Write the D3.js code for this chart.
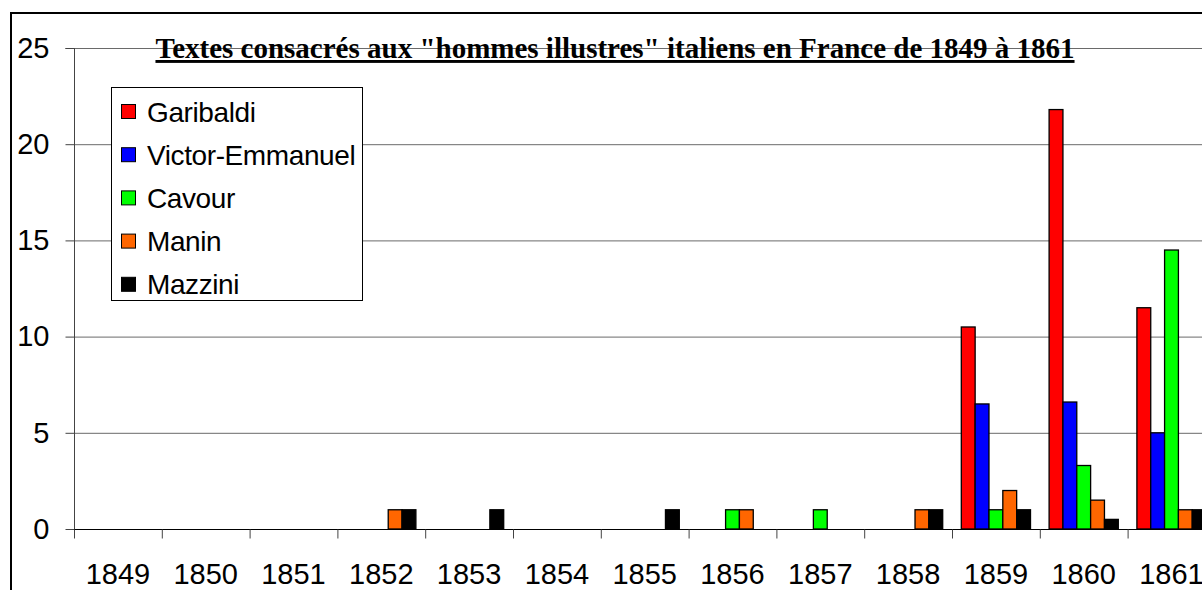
<!DOCTYPE html>
<html>
<head>
<meta charset="utf-8">
<script src="https://cdn.jsdelivr.net/npm/d3@7"></script>
<style>
  body { margin: 0; background: #fff; }
  svg { display: block; }
</style>
</head>
<body>
<script>
const width = 1202
const height = 590

const years = ['1849', '1850', '1851', '1852', '1853', '1854', '1855', '1856', '1857', '1858', '1859', '1860', '1861']
const names = ['Garibaldi', 'Victor-Emmanuel', 'Cavour', 'Manin', 'Mazzini']
const colors = ['#ff0000', '#0000ff', '#00ff00', '#ff6600', '#000000']

// values per year, one array per person
const garibaldi = [0, 0, 0, 0, 0, 0, 0, 0, 0, 0, 10.5, 21.8, 11.5]
const victorEmmanuel = [0, 0, 0, 0, 0, 0, 0, 0, 0, 0, 6.5, 6.6, 5]
const cavour = [0, 0, 0, 0, 0, 0, 0, 1, 1, 0, 1, 3.3, 14.5]
const manin = [0, 0, 0, 1, 0, 0, 0, 1, 0, 1, 2, 1.5, 1]
const mazzini = [0, 0, 0, 1, 1, 0, 1, 0, 0, 1, 1, 0.5, 1]
const series = [garibaldi, victorEmmanuel, cavour, manin, mazzini]

const yTicks = [0, 5, 10, 15, 20, 25]
const title = 'Textes consacrés aux "hommes illustres" italiens en France de 1849 à 1861'

const plotLeft = 74
const band = 87.8
const plotTop = 48
const plotBottom = 529

const svg = d3.select('body').append('svg')
  .attr('width', width)
  .attr('height', height)

// outer frame (runs off the picture on the right and bottom)
svg.append('rect')
  .attr('x', 11).attr('y', 13)
  .attr('width', 1400).attr('height', 800)
  .attr('fill', 'none')
  .attr('stroke', '#000')
  .attr('stroke-width', 2)

const x0 = d3.scaleBand()
  .domain(years)
  .range([plotLeft, plotLeft + band * years.length])

const gap = 9.3
const x1 = d3.scaleBand()
  .domain(d3.range(names.length))
  .range([gap, band - gap])

const y = d3.scaleLinear()
  .domain([0, 25])
  .range([plotBottom, plotTop])

// gridlines
svg.append('g')
  .selectAll('line')
  .data(yTicks.filter(d => d > 0))
  .enter().append('line')
  .attr('x1', plotLeft).attr('x2', width + 20)
  .attr('y1', d => y(d) + 0.5).attr('y2', d => y(d) + 0.5)
  .attr('stroke', '#6a6a6a')

// y axis
const yAxis = svg.append('g')
  .attr('transform', `translate(${plotLeft + 0.5},0)`)
  .call(d3.axisLeft(y).tickValues(yTicks).tickSize(9).tickPadding(16).tickFormat(d3.format('d')))
yAxis.select('.domain').attr('stroke', '#444').attr('d', `M-9,${plotTop + 0.5}H0V${plotBottom}`)
yAxis.selectAll('.tick line').attr('stroke', '#444')
yAxis.selectAll('.tick text')
  .attr('font-family', 'Liberation Sans, Arial, sans-serif')
  .attr('font-size', 29)
  .attr('fill', '#000')

// bars
const groups = svg.append('g')
  .selectAll('g')
  .data(years)
  .enter().append('g')
  .attr('transform', d => `translate(${x0(d)},0)`)

groups.selectAll('rect')
  .data((d, i) => series.map((s, k) => ({ k, v: s[i] })).filter(e => e.v > 0))
  .enter().append('rect')
  .attr('x', d => x1(d.k))
  .attr('y', d => y(d.v))
  .attr('width', x1.bandwidth())
  .attr('height', d => plotBottom - y(d.v))
  .attr('fill', d => colors[d.k])
  .attr('stroke', '#000')
  .attr('stroke-width', 1.3)

// x axis
const xAxis = svg.append('g')
  .attr('transform', `translate(0,${plotBottom + 0.5})`)
xAxis.append('line')
  .attr('x1', plotLeft).attr('x2', width + 20)
  .attr('stroke', '#000')
xAxis.selectAll('line.tk')
  .data(years)
  .enter().append('line')
  .attr('class', 'tk')
  .attr('x1', d => x0(d) + 0.5).attr('x2', d => x0(d) + 0.5)
  .attr('y1', 0).attr('y2', 9)
  .attr('stroke', '#444')
xAxis.selectAll('text')
  .data(years)
  .enter().append('text')
  .attr('x', d => x0(d) + band / 2)
  .attr('y', 54)
  .attr('text-anchor', 'middle')
  .attr('font-family', 'Liberation Sans, Arial, sans-serif')
  .attr('font-size', 29)
  .text(d => d)

// title
svg.append('text')
  .attr('x', 615)
  .attr('y', 58)
  .attr('text-anchor', 'middle')
  .attr('font-family', 'Liberation Serif, Times New Roman, serif')
  .attr('font-weight', 'bold')
  .attr('font-size', 29)
  .attr('text-decoration', 'underline')
  .text(title)

// legend
const legend = svg.append('g')
legend.append('rect')
  .attr('x', 111.5).attr('y', 87.5)
  .attr('width', 251).attr('height', 213)
  .attr('fill', '#fff')
  .attr('stroke', '#000')

const items = legend.selectAll('g')
  .data(names)
  .enter().append('g')
  .attr('transform', (d, i) => `translate(0,${111.5 + i * 43.2})`)
items.append('rect')
  .attr('x', 121.5).attr('y', -7)
  .attr('width', 14).attr('height', 14)
  .attr('fill', (d, i) => colors[i])
  .attr('stroke', '#000')
items.append('text')
  .attr('x', 147)
  .attr('y', 10)
  .attr('font-family', 'Liberation Sans, Arial, sans-serif')
  .attr('font-size', 28)
  .attr('letter-spacing', -0.4)
  .text(d => d)
</script>
</body>
</html>
